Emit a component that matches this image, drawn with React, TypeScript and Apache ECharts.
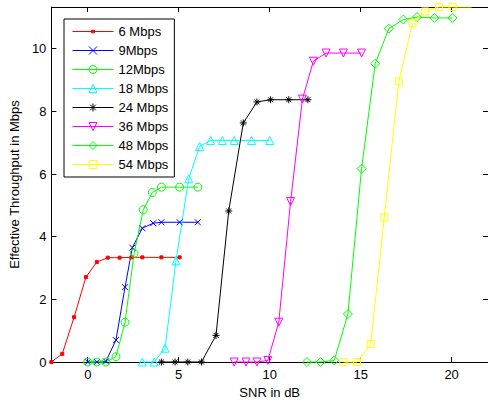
import React, { useEffect, useRef } from "react";
import * as echarts from "echarts";

const seriesNames = ["6 Mbps", "9Mbps", "12Mbps", "18 Mbps", "24 Mbps", "36 Mbps", "48 Mbps", "54 Mbps"];

const snr6 = [-2, -1.4, -0.75, -0.1, 0.5, 1.1, 1.75, 2.4, 3.0, 4.05, 5.05];
const thr6 = [0, 0.26, 1.43, 2.71, 3.19, 3.33, 3.33, 3.34, 3.34, 3.34, 3.34];

const snr9 = [0, 0.5, 1.0, 1.55, 2.05, 2.45, 3.0, 3.6, 4.05, 5.05, 6.05];
const thr9 = [0, 0, 0.02, 0.7, 2.39, 3.65, 4.27, 4.43, 4.46, 4.46, 4.46];

const snr12 = [0, 0.5, 1.0, 1.55, 2.05, 2.55, 3.05, 3.55, 4.05, 5.05, 6.05];
const thr12 = [0, 0, 0, 0.17, 1.27, 3.47, 4.86, 5.41, 5.58, 5.58, 5.58];

const snr18 = [3.0, 3.65, 4.25, 4.85, 5.55, 6.15, 6.75, 7.4, 8.05, 9.0, 10.0];
const thr18 = [0, 0, 0.44, 3.23, 5.85, 6.88, 7.07, 7.07, 7.07, 7.07, 7.07];

const snr24 = [4.05, 4.8, 5.5, 6.25, 7.05, 7.75, 8.55, 9.3, 10.05, 11.05, 12.1];
const thr24 = [0, 0, 0, 0, 0.85, 4.82, 7.63, 8.3, 8.37, 8.37, 8.37];

const snr36 = [8.05, 8.7, 9.3, 9.9, 10.5, 11.15, 11.8, 12.4, 13.1, 14.05, 15.05];
const thr36 = [0, 0, 0, 0.05, 1.27, 5.12, 8.39, 9.6, 9.86, 9.86, 9.86];

const snr48 = [12.05, 12.8, 13.55, 14.3, 15.05, 15.8, 16.55, 17.35, 18.1, 19.05, 20.05];
const thr48 = [0, 0, 0.05, 1.53, 6.17, 9.52, 10.64, 10.93, 11.01, 10.98, 10.98];

const snr54 = [14.05, 14.8, 15.55, 16.3, 17.1, 17.85, 18.55, 19.3, 20.05, 21.1];
const thr54 = [0, 0, 0.57, 4.62, 8.96, 10.82, 11.19, 11.33, 11.33, 11.33];

const xTicks = [0, 5, 10, 15, 20];
const yTicks = [0, 2, 4, 6, 8, 10];

const FONT = "'Liberation Sans', Arial, Helvetica, sans-serif";

const DOT = "path://M0,0M9,9M3,3H6V6H3Z";
const XMARK = "path://M0,0L10,10M10,0L0,10";
const STAR = "path://M5,0L5,10M0,5L10,5M1.5,1.5L8.5,8.5M8.5,1.5L1.5,8.5";

const styles = [
  { color: "#ff0000", symbol: DOT, size: 9, rotate: 0, filled: true },
  { color: "#0000ff", symbol: XMARK, size: 6, rotate: 0, filled: false },
  { color: "#00ff00", symbol: "circle", size: 8, rotate: 0, filled: false },
  { color: "#00ffff", symbol: "triangle", size: 8, rotate: 0, filled: false },
  { color: "#000000", symbol: STAR, size: 7, rotate: 0, filled: false },
  { color: "#ff00ff", symbol: "triangle", size: 8, rotate: 180, filled: false },
  { color: "#00ff00", symbol: "diamond", size: 9, rotate: 0, filled: false },
  { color: "#ffff00", symbol: "rect", size: 7, rotate: 0, filled: false },
];

const xs = [snr6, snr9, snr12, snr18, snr24, snr36, snr48, snr54];
const ys = [thr6, thr9, thr12, thr18, thr24, thr36, thr48, thr54];

export default function App() {
  const ref = useRef<HTMLDivElement>(null);
  useEffect(() => {
    if (!ref.current) return;
    const chart = echarts.init(ref.current, undefined, { renderer: "svg" });
    const series = seriesNames.map((name, i) => {
      const s = styles[i];
      const data = xs[i].map((x, j) => {
        const item: any = { value: [x, ys[i][j]] };
        if (i === 7 && j === xs[i].length - 1) item.symbol = "none";
        return item;
      });
      return {
        name,
        type: "line",
        data,
        clip: false,
        symbol: s.symbol,
        symbolSize: s.size,
        symbolRotate: s.rotate,
        showAllSymbol: true,
        lineStyle: { color: s.color, width: 1 },
        itemStyle: {
          color: s.filled ? s.color : "transparent",
          borderColor: s.color,
          borderWidth: 1,
        },
        emphasis: { disabled: true },
      };
    });
    const axisCommonX = {
      type: "value",
      min: -2,
      max: 22,
      axisLine: { show: true, onZero: false, lineStyle: { color: "#000", width: 1 } },
      axisTick: { show: true, inside: true, length: 5, customValues: xTicks, lineStyle: { color: "#000" } },
      splitLine: { show: false },
    };
    const axisCommonY = {
      type: "value",
      min: 0,
      max: 11.33,
      axisLine: { show: true, onZero: false, lineStyle: { color: "#000", width: 1 } },
      axisTick: { show: true, inside: true, length: 5, customValues: yTicks, lineStyle: { color: "#000" } },
      splitLine: { show: false },
    };
    chart.setOption({
      animation: false,
      backgroundColor: "#fff",
      grid: { left: 51, top: 7, right: -1, bottom: 43 },
      legend: {
        data: seriesNames,
        orient: "vertical",
        left: 64,
        top: 19,
        itemWidth: 41,
        itemHeight: 10,
        itemGap: 6,
        padding: [6, 6, 6, 8],
        borderColor: "#000",
        borderWidth: 1,
        backgroundColor: "#fff",
        textStyle: { fontSize: 13, color: "#000", fontFamily: FONT },
        lineStyle: { width: 1 },
        itemStyle: { borderWidth: 1 },
        selectedMode: false,
      },
      xAxis: [
        {
          ...axisCommonX,
          position: "bottom",
          axisLabel: { customValues: xTicks, color: "#000", fontSize: 13, fontFamily: FONT, margin: 6 },
          name: "SNR in dB",
          nameLocation: "middle",
          nameGap: 21,
          nameTextStyle: { color: "#000", fontSize: 13, fontFamily: FONT },
        },
        { ...axisCommonX, position: "top", axisLabel: { show: false } },
      ],
      yAxis: [
        {
          ...axisCommonY,
          position: "left",
          axisLabel: { customValues: yTicks, color: "#000", fontSize: 13, fontFamily: FONT, margin: 5 },
          name: "Effective Throughput in Mbps",
          nameLocation: "middle",
          nameGap: 23,
          nameTextStyle: { color: "#000", fontSize: 13, fontFamily: FONT },
        },
        { ...axisCommonY, position: "right", axisLabel: { show: false } },
      ],
      series,
    });
    return () => chart.dispose();
  }, []);
  return (
    <div
      ref={ref}
      style={{ position: "fixed", left: 0, top: 0, width: 488, height: 405 }}
    />
  );
}
